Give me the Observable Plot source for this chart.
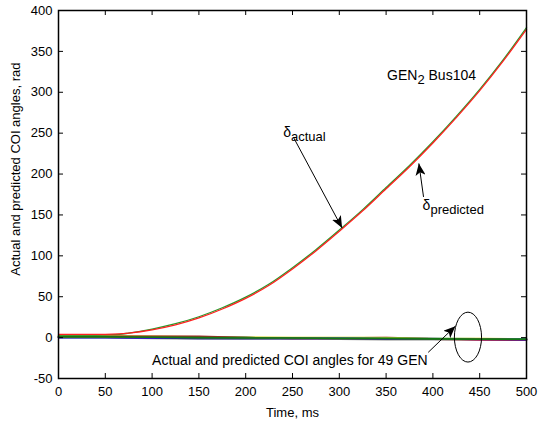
<!DOCTYPE html>
<html><head><meta charset="utf-8">
<script src="https://cdn.jsdelivr.net/npm/d3@7"></script>
<script src="https://cdn.jsdelivr.net/npm/@observablehq/plot@0.6"></script>
<style>body{margin:0;background:#fff} svg{display:block}</style>
</head><body><div id="chart"></div>
<script>
// ---- data ----
const genTime      = [0, 25, 50, 65, 75, 100, 125, 150, 175, 200, 225, 250, 275, 300, 325, 350, 375, 400, 425, 450, 475, 500];
const genPredicted = [4, 4, 4, 4.5, 5.5, 9.5, 15.5, 24, 35, 48, 64, 84, 106, 130, 155, 182, 209, 238, 269, 302, 338, 377];
const genActual    = [3, 3, 3.5, 4, 5.5, 10.5, 17, 25.5, 36.5, 49.5, 65.5, 85.5, 107.5, 131.5, 156.5, 183.5, 210.5, 239.5, 270.5, 303.5, 339.5, 379];

const bandTime = [0, 50, 100, 150, 200, 250, 300, 350, 400, 450, 500];
const genGray    = [0, 0, -1, -1.5, -2, -2, -2, -2.5, -2.5, -3, -3];
const genMagenta = [0.5, 0.5, 0, 0, -0.5, -0.5, -0.5, 0, -1, -2.5, -2.5];
const genYellow  = [2, 2, 1.5, 1, 0.5, 0, 0, 0, -1, -1, -1.5];
const genCyan    = [1, 1, 1, 0.5, 0, -0.5, -0.5, -1, -1, -1.5, -1.5];
const genBlue    = [0, 0, -0.5, -1, -1, -1, -1, -1.5, -1.5, -2, -2.5];
const genDarkRed = [1.5, 1.5, 1.5, 1.5, 0, -1, -1, -1.5, -2, -2.5, -3];
const genOlive   = [0.5, 0.5, 0.5, 0, 0, -0.5, -1, -1, -1.5, -1.5, -2];
const genGreen   = [1, 1, 0.5, 0, -0.5, -0.5, -1, -1, -1.5, -2, -2];

const xTicks = [0, 50, 100, 150, 200, 250, 300, 350, 400, 450, 500];
const yTicks = [-50, 0, 50, 100, 150, 200, 250, 300, 350, 400];

// annotations in data coordinates
const labelTexts = [
  {t: 351, v: 321, text: "GEN2 Bus104"},
  {t: 240, v: 251, text: "δactual"},
  {t: 389, v: 162, text: "δpredicted"},
  {t: 100, v: -28, text: "Actual and predicted COI angles for 49 GEN"}
];
const arrowLinks = [
  {t1: 251, v1: 245, t2: 303, v2: 134},
  {t1: 390, v1: 172, t2: 385, v2: 213},
  {t1: 395, v1: -18, t2: 424, v2: 14}
];
const ellipseSpec = {t: 438, v: 0, rt: 14.5, rv: 30.5};
const yLabel = [{v: 206, text: "Actual and predicted COI angles, rad"}];

// ---- tables ----
const bandSeries = [
  ["gray", genGray, "#8c8c8c"],
  ["magenta", genMagenta, "#c000c0"],
  ["yellow", genYellow, "#c8c800"],
  ["cyan", genCyan, "#00b0b0"],
  ["darkred", genDarkRed, "#a02020"],
  ["blue", genBlue, "#1010d0"],
  ["olive", genOlive, "#556b2f"],
  ["green", genGreen, "#137813"]
];
const bandRows = bandSeries.flatMap(([name, vals]) => vals.map((v, i) => ({t: bandTime[i], v, s: name})));
const bandColor = Object.fromEntries(bandSeries.map(([n, , c]) => [n, c]));
const actualRows = genTime.map((t, i) => ({t, v: genActual[i]}));
const predRows = genTime.map((t, i) => ({t, v: genPredicted[i]}));

const FONT = "'Liberation Sans', Arial, Helvetica, sans-serif";
const W = 538, H = 421, ML = 58, MR = 12, MT = 10, MB = 43;
const FW = W - ML - MR, FH = H - MT - MB, TL = 5;

const plot = Plot.plot({
  width: W, height: H,
  marginLeft: ML, marginRight: MR, marginTop: MT, marginBottom: MB,
  style: {fontFamily: FONT, fontSize: "13px", color: "#000", background: "#fff"},
  x: {domain: [0, 500], ticks: xTicks},
  y: {domain: [-50, 400], ticks: yTicks},
  marks: [
    Plot.line(bandRows, {x: "t", y: "v", z: "s", stroke: d => bandColor[d.s], strokeWidth: 1.6}),
    Plot.line(actualRows, {x: "t", y: "v", stroke: "#2a9a2a", strokeWidth: 1.3, curve: "monotone-x"}),
    Plot.line(predRows, {x: "t", y: "v", stroke: "#ff2020", strokeWidth: 1.3, curve: "monotone-x"}),
    // inward ticks on all four sides
    Plot.tickX(xTicks, {x: d => d, insetTop: FH - TL, stroke: "#000"}),
    Plot.tickX(xTicks, {x: d => d, insetBottom: FH - TL, stroke: "#000"}),
    Plot.tickY(yTicks, {y: d => d, insetRight: FW - TL, stroke: "#000"}),
    Plot.tickY(yTicks, {y: d => d, insetLeft: FW - TL, stroke: "#000"}),
    Plot.frame({stroke: "#000", strokeWidth: 1.5}),
    Plot.axisX(xTicks, {anchor: "bottom", tickSize: 0, tickPadding: 8, tickFormat: d => String(d), label: "Time, ms", labelAnchor: "center", labelArrow: "none", labelOffset: 38, fontSize: 13}),
    Plot.axisY(yTicks, {anchor: "left", tickSize: 0, tickPadding: 6, tickFormat: d => String(d), label: null, fontSize: 13}),
    Plot.text(yLabel, {y: "v", text: "text", frameAnchor: "left", textAnchor: "middle", lineAnchor: "middle", rotate: -90, dx: -43, fontSize: 13, fill: "#000"}),
    Plot.text(labelTexts, {x: "t", y: "v", text: "text", textAnchor: "start", fontSize: 14, fill: "#000"}),
    Plot.link(arrowLinks, {x1: "t1", y1: "v1", x2: "t2", y2: "v2", stroke: "#000", strokeWidth: 1})
  ]
});

document.getElementById("chart").appendChild(plot);

const svg = d3.select(plot);
const xs = plot.scale("x"), ys = plot.scale("y");

// filled arrowheads
const defs = svg.insert("defs", ":first-child");
defs.append("marker").attr("id", "ahead").attr("viewBox", "0 0 12 10").attr("refX", 12).attr("refY", 5)
  .attr("markerWidth", 12).attr("markerHeight", 10).attr("markerUnits", "userSpaceOnUse").attr("orient", "auto")
  .append("path").attr("d", "M0,0 L12,5 L0,10 L3,5 Z").attr("fill", "#000");
svg.selectAll("g[aria-label='link'] path").attr("marker-end", "url(#ahead)");

// ellipse
svg.append("ellipse")
  .attr("cx", xs.apply(ellipseSpec.t)).attr("cy", ys.apply(ellipseSpec.v))
  .attr("rx", xs.apply(ellipseSpec.t + ellipseSpec.rt) - xs.apply(ellipseSpec.t))
  .attr("ry", ys.apply(ellipseSpec.v) - ys.apply(ellipseSpec.v + ellipseSpec.rv))
  .attr("fill", "none").attr("stroke", "#000").attr("stroke-width", 1);

// subscripts
const subs = {"GEN2 Bus104": ["GEN", "2", " Bus104"], "δactual": ["δ", "actual", ""], "δpredicted": ["δ", "predicted", ""]};
svg.selectAll("g[aria-label='text'] text").each(function() {
  const t = this.textContent;
  if (!subs[t]) return;
  const [a, b, c] = subs[t];
  const el = d3.select(this);
  el.text(null);
  el.append("tspan").text(a);
  el.append("tspan").attr("dy", 4).attr("font-size", 13).text(b);
  if (c) el.append("tspan").attr("dy", -4).text(c);
});
</script>
</body></html>
